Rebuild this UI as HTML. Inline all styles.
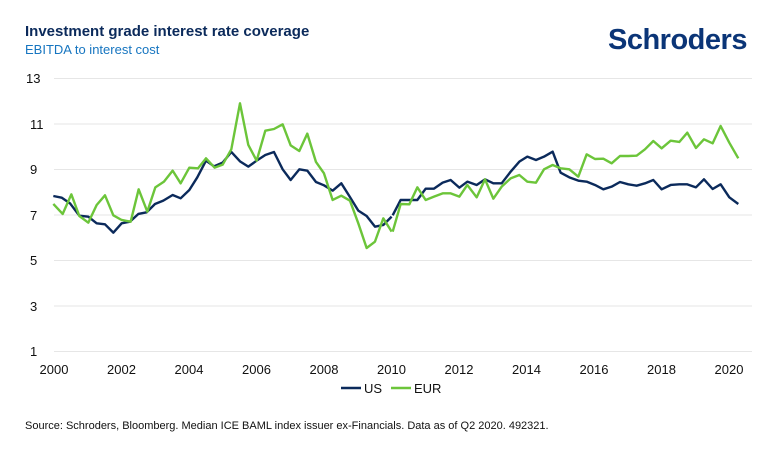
<!DOCTYPE html>
<html><head><style>
body{margin:0;width:770px;height:455px;background:#fff;font-family:"Liberation Sans",sans-serif;overflow:hidden}
</style></head><body>
<svg width="770" height="455" xmlns="http://www.w3.org/2000/svg" font-family="Liberation Sans, sans-serif">
<text x="25" y="36" font-size="15" font-weight="bold" fill="#0b2a5b">Investment grade interest rate coverage</text>
<text x="25" y="54" font-size="13" fill="#1675c0">EBITDA to interest cost</text>
<text x="608" y="49" font-size="29" font-weight="bold" fill="#0b3577" letter-spacing="-0.5">Schroders</text>
<g stroke="#e6e6e6" stroke-width="1">
<line x1="54" x2="752" y1="78.5" y2="78.5"/><line x1="54" x2="752" y1="124" y2="124"/>
<line x1="54" x2="752" y1="169.5" y2="169.5"/><line x1="54" x2="752" y1="215" y2="215"/>
<line x1="54" x2="752" y1="260.5" y2="260.5"/><line x1="54" x2="752" y1="306" y2="306"/>
<line x1="54" x2="752" y1="351.5" y2="351.5"/>
</g>
<g font-size="13" fill="#111" text-anchor="start">
<text x="26" y="83">13</text><text x="30" y="129">11</text><text x="30" y="174">9</text>
<text x="30" y="220">7</text><text x="30" y="265">5</text><text x="30" y="311">3</text><text x="30" y="356">1</text>
</g>
<g font-size="13" fill="#111" text-anchor="middle">
<text x="54" y="374">2000</text><text x="121.5" y="374">2002</text><text x="189" y="374">2004</text>
<text x="256.5" y="374">2006</text><text x="324" y="374">2008</text><text x="391.5" y="374">2010</text>
<text x="459" y="374">2012</text><text x="526.5" y="374">2014</text><text x="594" y="374">2016</text>
<text x="661.5" y="374">2018</text><text x="729" y="374">2020</text>
</g>
<g fill="none" stroke-width="2.4" stroke-linejoin="round">
<g transform="translate(40,90) scale(0.3333)">
<polyline vector-effect="non-scaling-stroke" stroke="#0b2a5b" points="40,318 65,323 90,340 118,377 145,380 170,400 195,403 220,428 245,400 270,395 295,372 320,367 345,342 370,332 398,315 422,325 448,300 472,262 498,212 522,229 548,218 574,186 600,214 625,230 650,212 676,195 702,186 728,238 752,270 778,238 802,242 828,276 852,286 878,302 904,280 928,318 955,362 980,378 1005,410 1030,405 1055,380"/>
<polyline vector-effect="non-scaling-stroke" stroke="#6cc53a" points="40,342 68,372 94,313 118,378 145,398 170,345 195,316 220,376 245,390 272,395 296,298 322,365 346,292 372,275 398,242 422,280 448,233 474,235 498,205 524,233 548,224 574,178 600,40 625,165 650,212 676,122 702,117 728,103 752,166 778,183 802,131 828,216 852,250 878,330 904,317 930,332 955,400 980,474 1005,455 1030,385 1055,425"/>
</g>
<g transform="translate(380,90) scale(0.3333)">
<polyline vector-effect="non-scaling-stroke" stroke="#0b2a5b" points="38,376 62,330 88,330 112,330 137,296 162,296 188,278 212,270 238,293 262,275 290,285 315,268 340,280 365,280 392,245 418,215 442,200 468,210 492,200 518,185 542,248 568,262 595,272 620,275 645,285 670,298 695,290 720,276 745,283 770,287 795,280 820,270 845,298 872,285 898,283 922,283 948,292 972,268 998,297 1022,283 1048,322 1075,342"/>
<polyline vector-effect="non-scaling-stroke" stroke="#6cc53a" points="38,425 62,342 88,343 112,292 137,330 162,320 188,310 212,310 238,320 262,285 290,322 315,268 340,326 365,290 392,265 418,255 442,275 468,278 492,238 518,225 542,235 568,238 595,260 620,193 645,207 670,206 695,220 720,198 745,198 770,197 795,178 820,153 845,175 872,152 898,156 922,128 948,174 972,148 998,160 1022,108 1048,158 1075,205"/>
</g>
</g>
<line x1="341" x2="361" y1="388" y2="388" stroke="#0b2a5b" stroke-width="2.4"/>
<text x="364" y="393" font-size="13" fill="#111">US</text>
<line x1="391" x2="411" y1="388" y2="388" stroke="#6cc53a" stroke-width="2.4"/>
<text x="414" y="393" font-size="13" fill="#111">EUR</text>
<text x="25" y="429" font-size="11" fill="#111">Source: Schroders, Bloomberg. Median ICE BAML index issuer ex-Financials. Data as of Q2 2020. 492321.</text>
</svg>
</body></html>
